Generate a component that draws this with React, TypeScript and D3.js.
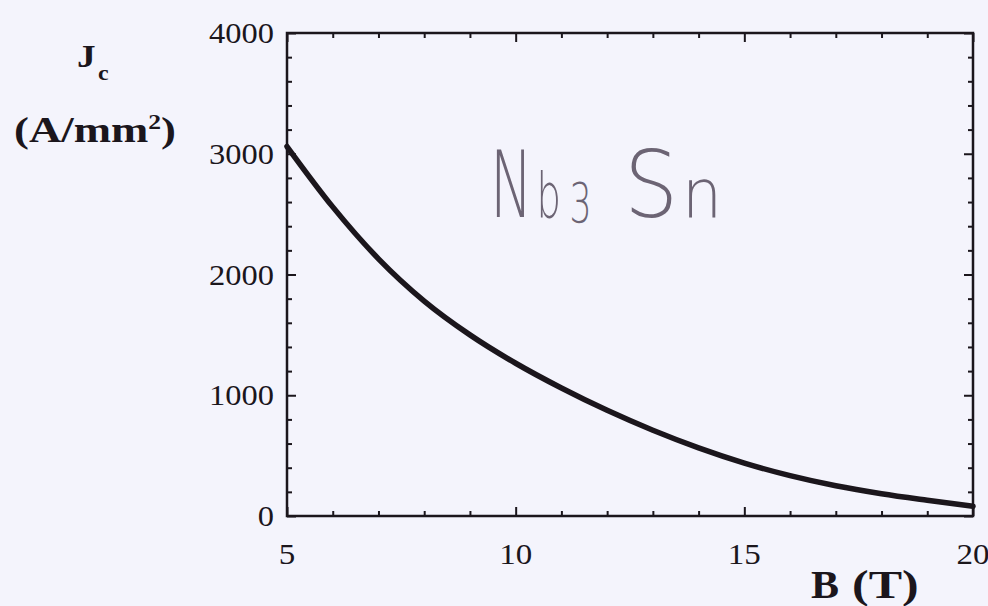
import { useEffect, useRef } from "react";
import * as d3 from "d3";

// critical current density, one value per tesla
const fieldT = [5, 6, 7, 8, 9, 10, 11, 12, 13, 14, 15, 16, 17, 18, 19, 20];
const jcValues = [3060, 2560, 2130, 1780, 1500, 1265, 1060, 875, 710, 564, 438, 334, 250, 184, 130, 80];

const xMajor = [5, 10, 15, 20];
const yMajor = [0, 1000, 2000, 3000, 4000];

const W = 988;
const H = 606;

const App: React.FC = () => {
    const svgRef = useRef<SVGSVGElement | null>(null);

    useEffect(() => {
        if (!svgRef.current) return;
        const svg = d3.select(svgRef.current);
        svg.selectAll("*").remove();

        const left = 287, right = 973, top = 33, bottom = 516;
        const ink = "#1b161c";
        const serif = "'Liberation Serif', 'DejaVu Serif', serif";

        const x = d3.scaleLinear().domain([5, 20]).range([left, right]);
        const y = d3.scaleLinear().domain([0, 4000]).range([bottom, top]);

        svg.append("rect").attr("width", W).attr("height", H).attr("fill", "#f4f4fc");

        const xMinor = d3.range(5, 21).filter(v => !xMajor.includes(v));
        const yMinor = d3.range(0, 4001, 200).filter(v => !yMajor.includes(v));

        // ticks point into the frame on all four sides, labels drawn separately
        const tickAxis = (axis: d3.Axis<d3.NumberValue>, tx: number, ty: number, vals: number[], size: number) => {
            const g = svg.append("g")
                .attr("transform", `translate(${tx},${ty})`)
                .call(axis.tickValues(vals).tickSize(-size).tickFormat(() => ""));
            g.select(".domain").remove();
            g.selectAll("line").attr("stroke", ink).attr("stroke-width", 2);
        };

        tickAxis(d3.axisBottom(x), 0, bottom, xMajor, 9);
        tickAxis(d3.axisBottom(x), 0, bottom, xMinor, 5);
        tickAxis(d3.axisTop(x), 0, top, xMajor, 9);
        tickAxis(d3.axisTop(x), 0, top, xMinor, 5);
        tickAxis(d3.axisLeft(y), left, 0, yMajor, 9);
        tickAxis(d3.axisLeft(y), left, 0, yMinor, 5);
        tickAxis(d3.axisRight(y), right, 0, yMajor, 9);
        tickAxis(d3.axisRight(y), right, 0, yMinor, 5);

        // the scanned lettering is a little wider than the font, hence the x stretch
        svg.append("g").selectAll("text")
            .data(xMajor)
            .join("text")
            .attr("transform", d => `translate(${x(d)},564) scale(1.1,1)`)
            .attr("text-anchor", "middle")
            .attr("font-family", serif).attr("font-size", 30).attr("fill", ink)
            .text(d => d3.format("d")(d));

        svg.append("g").selectAll("text")
            .data(yMajor)
            .join("text")
            .attr("transform", d => `translate(274,${y(d) + 10}) scale(1.12,1)`)
            .attr("text-anchor", "end")
            .attr("font-family", serif).attr("font-size", 29).attr("fill", ink)
            .text(d => d3.format("d")(d));

        svg.append("rect")
            .attr("x", left).attr("y", top)
            .attr("width", right - left).attr("height", bottom - top)
            .attr("fill", "none").attr("stroke", ink).attr("stroke-width", 2.5);

        const pts = fieldT.map((b, i) => ({ b, jc: jcValues[i] }));
        const line = d3.line<{ b: number; jc: number }>()
            .x(d => x(d.b))
            .y(d => y(d.jc))
            .curve(d3.curveMonotoneX);

        svg.append("path")
            .datum(pts)
            .attr("fill", "none")
            .attr("stroke", ink)
            .attr("stroke-width", 5.5)
            .attr("stroke-linecap", "round")
            .attr("d", line);

        // axis titles
        const jLabel = svg.append("text")
            .attr("transform", "translate(77,67) scale(1.2,1)")
            .attr("font-family", serif).attr("font-weight", "bold")
            .attr("font-size", 31).attr("fill", ink);
        jLabel.append("tspan").text("J");
        jLabel.append("tspan").attr("dy", 13).attr("dx", 2).attr("font-size", 20).text("c");

        const unit = svg.append("text")
            .attr("transform", "translate(14,142) scale(1.28,1)")
            .attr("font-family", serif).attr("font-weight", "bold")
            .attr("font-size", 35).attr("fill", ink);
        unit.append("tspan").text("(A/mm");
        unit.append("tspan").attr("dy", -13).attr("font-size", 20).text("2");
        unit.append("tspan").attr("dy", 13).text(")");

        svg.append("text")
            .attr("transform", "translate(811,598) scale(1.05,1)")
            .attr("font-family", serif).attr("font-weight", "bold")
            .attr("font-size", 40).attr("fill", ink)
            .text("B");
        svg.append("text")
            .attr("transform", "translate(852,598) scale(1.25,1)")
            .attr("font-family", serif).attr("font-weight", "bold")
            .attr("font-size", 40).attr("fill", ink)
            .text("(T)");

        // handwritten note
        const handFont = "'DejaVu Sans', sans-serif";
        const handInk = "#6c6474";
        const nb = svg.append("text")
            .attr("transform", "translate(490,217) scale(0.62,1)")
            .attr("font-family", handFont).attr("font-weight", 200)
            .attr("font-size", 92).attr("fill", handInk);
        nb.append("tspan").text("N");
        nb.append("tspan").attr("dx", 6).attr("font-size", 62).text("b");
        nb.append("tspan").attr("dx", 14).attr("dy", 5).attr("font-size", 56).text("3");

        const sn = svg.append("text")
            .attr("transform", "translate(624,217) scale(0.93,1)")
            .attr("font-family", handFont).attr("font-weight", 200)
            .attr("font-size", 92).attr("fill", handInk);
        sn.append("tspan").text("S");
        sn.append("tspan").attr("dx", 4).attr("font-size", 68).text("n");
    }, []);

    return (
        <svg
            ref={svgRef}
            width={W}
            height={H}
            style={{ position: "fixed", left: 0, top: 0, display: "block" }}
        />
    );
};

export default App;
